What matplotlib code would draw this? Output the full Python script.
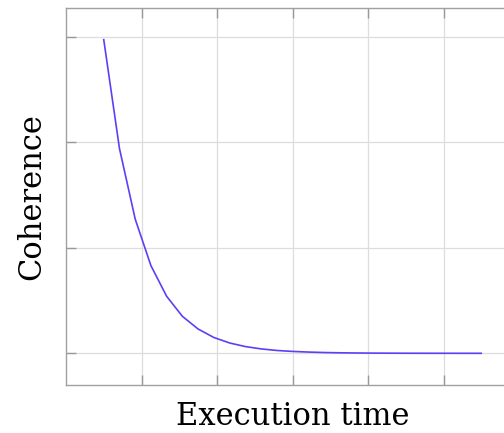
import matplotlib
matplotlib.use("Agg")
import matplotlib.pyplot as plt

# data
exec_time = [0.5, 0.708, 0.917, 1.125, 1.333, 1.542, 1.75, 1.958, 2.167, 2.375,
             2.583, 2.792, 3.0, 3.208, 3.417, 3.625, 3.833, 4.042, 4.25, 4.458,
             4.667, 4.875, 5.083, 5.292, 5.5]
coherence = [2.97, 1.94, 1.27, 0.83, 0.54, 0.35, 0.23, 0.15, 0.098, 0.064,
             0.042, 0.027, 0.018, 0.012, 0.0075, 0.0049, 0.0032, 0.0021, 0.0014, 0.0009,
             0.0006, 0.0004, 0.0003, 0.0002, 0.0001]
x_ticks = [1, 2, 3, 4, 5, 6]
y_ticks = [0, 1, 2, 3]

fig = plt.figure(figsize=(5.04, 4.33), dpi=100)
W, H = 504, 433
left, right, top, bottom = 66, 519, 8, 385
ax = fig.add_axes([left / W, 1 - bottom / H, (right - left) / W, (bottom - top) / H])

ax.plot(exec_time, coherence, color="#5c40f5", linewidth=1.2, zorder=3)

ax.set_xlim(0, 6)
ax.set_ylim(-0.30, 3.27)
ax.set_xticks(x_ticks)
ax.set_yticks(y_ticks)
ax.set_xticklabels([])
ax.set_yticklabels([])
ax.grid(True, color="#dddddd", linewidth=0.9)
ax.set_axisbelow(True)
ax.tick_params(direction="in", length=7, width=1.0, color="#999999",
               top=True, bottom=True, left=True, right=True)
for s in ax.spines.values():
    s.set_color("#a0a0a0")
    s.set_linewidth(1.0)

ax.set_xlabel("Execution time", fontfamily="DejaVu Serif", fontsize=22, labelpad=8)
ax.set_ylabel("Coherence", fontfamily="DejaVu Serif", fontsize=22, labelpad=10)

fig.savefig("out.png", dpi=100)
